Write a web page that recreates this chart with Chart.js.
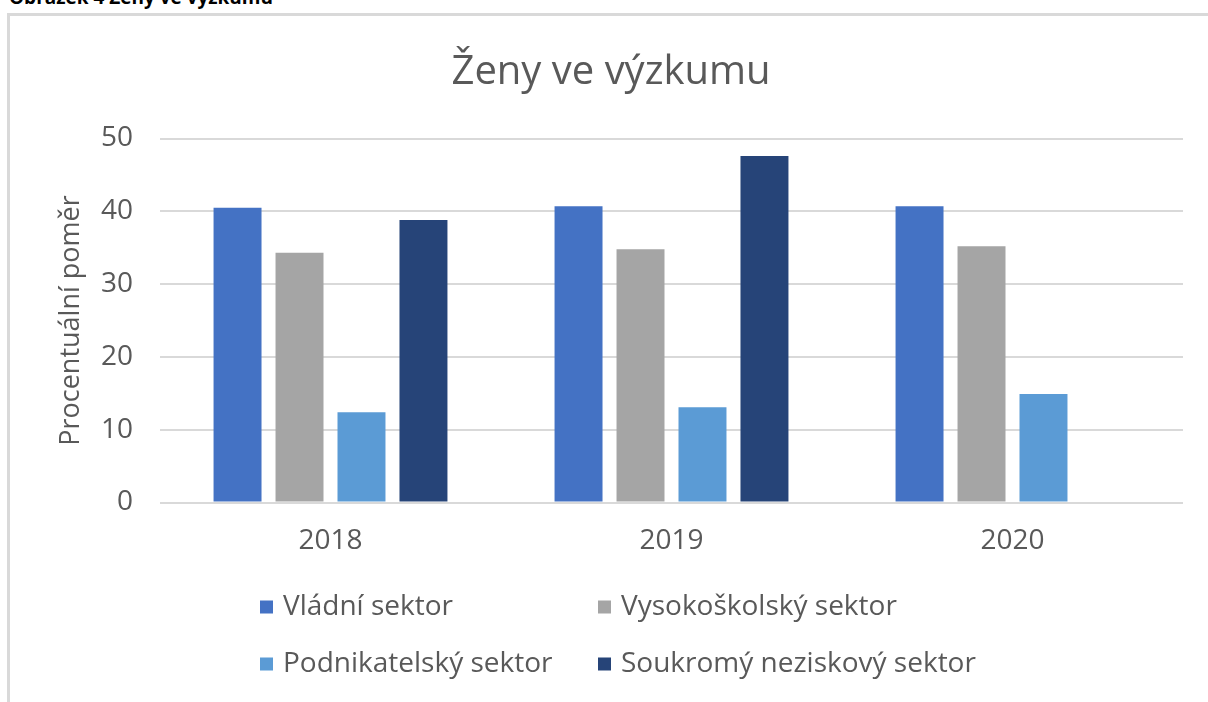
<!DOCTYPE html>
<html lang="cs">
<head>
<meta charset="utf-8">
<title>Ženy ve výzkumu</title>
<script src="https://cdn.jsdelivr.net/npm/chart.js@4/dist/chart.umd.min.js"></script>
<style>
    html, body {
        margin: 0;
        padding: 0;
        width: 1208px;
        height: 702px;
        overflow: hidden;
        background: #ffffff;
    }
    .caption {
        position: absolute;
        left: 9px;
        top: -16px;
        font-family: 'Open Sans', 'Noto Sans', sans-serif;
        font-weight: bold;
        font-size: 19px;
        color: #000000;
        white-space: nowrap;
    }
    .frame {
        position: absolute;
        left: 7px;
        top: 13px;
        width: 1300px;
        height: 800px;
        border-left: 3px solid #d9d9d9;
        border-top: 3px solid #d9d9d9;
    }
    #chart {
        position: absolute;
        left: 0;
        top: 0;
    }
</style>
</head>
<body>
<div class="caption">Obrázek 4 Ženy ve výzkumu</div>
<div class="frame"></div>
<canvas id="chart" width="1208" height="702"></canvas>

<script>
// Data
const categories = ['2018', '2019', '2020'];
const vladniSektor = [40.5, 40.7, 40.7];
const vysokoskolskySektor = [34.3, 34.8, 35.2];
const podnikatelskySektor = [12.4, 13.1, 14.9];
const soukromyNeziskovySektor = [38.8, 47.6, null];
const seriesNames = ['Vládní sektor', 'Vysokoškolský sektor', 'Podnikatelský sektor', 'Soukromý neziskový sektor'];
const yMin = 0;
const yMax = 50;
const yStep = 10;

const FONT = "'Open Sans', 'Noto Sans', sans-serif";
const TEXT_COLOR = '#595959';
const GRID_COLOR = '#d9d9d9';

// Legend in two aligned columns, like the Office chart
const gridLegend = {
    id: 'gridLegend',
    afterDraw(chart) {
        const ctx = chart.ctx;
        const colX = [260, 598];
        const rowY = [607, 664];
        ctx.save();
        ctx.font = '28px ' + FONT;
        ctx.textBaseline = 'middle';
        ctx.textAlign = 'left';
        chart.data.datasets.forEach((ds, i) => {
            const x = colX[i % 2];
            const y = rowY[Math.floor(i / 2)];
            ctx.fillStyle = ds.backgroundColor;
            ctx.fillRect(x, y - 6.5, 13, 13);
            ctx.fillStyle = TEXT_COLOR;
            ctx.fillText(ds.label, x + 23, y);
        });
        ctx.restore();
    }
};

const ctx = document.getElementById('chart').getContext('2d');
new Chart(ctx, {
    type: 'bar',
    data: {
        labels: categories,
        datasets: [
            { label: seriesNames[0], data: vladniSektor, backgroundColor: '#4472c4' },
            { label: seriesNames[1], data: vysokoskolskySektor, backgroundColor: '#a5a5a5' },
            { label: seriesNames[2], data: podnikatelskySektor, backgroundColor: '#5b9bd5' },
            { label: seriesNames[3], data: soukromyNeziskovySektor, backgroundColor: '#264478' }
        ]
    },
    options: {
        responsive: false,
        animation: false,
        devicePixelRatio: 1,
        categoryPercentage: 0.727,
        barPercentage: 0.774,
        layout: {
            padding: { left: 39, right: 25, top: 0, bottom: 0 }
        },
        plugins: {
            legend: { display: false },
            tooltip: { enabled: false },
            title: {
                display: true,
                text: 'Ženy ve výzkumu',
                color: TEXT_COLOR,
                font: { family: FONT, size: 40, weight: 'normal' },
                padding: { top: 49, bottom: 41.5 }
            }
        },
        scales: {
            x: {
                grid: { display: false },
                border: { display: false },
                ticks: {
                    color: TEXT_COLOR,
                    font: { family: FONT, size: 28 },
                    padding: 14,
                    maxRotation: 0
                },
                afterFit: (scale) => { scale.height = 199.5; }
            },
            y: {
                min: yMin,
                max: yMax,
                grid: {
                    color: GRID_COLOR,
                    lineWidth: 2,
                    drawTicks: false
                },
                border: { display: false },
                ticks: {
                    stepSize: yStep,
                    color: TEXT_COLOR,
                    font: { family: FONT, size: 28 },
                    padding: 27
                },
                title: {
                    display: true,
                    text: 'Procentuální poměr',
                    color: TEXT_COLOR,
                    font: { family: FONT, size: 27 },
                    padding: { top: 16, bottom: 0 }
                },
                afterFit: (scale) => { scale.width = 121; }
            }
        }
    },
    plugins: [gridLegend]
});
</script>
</body>
</html>
